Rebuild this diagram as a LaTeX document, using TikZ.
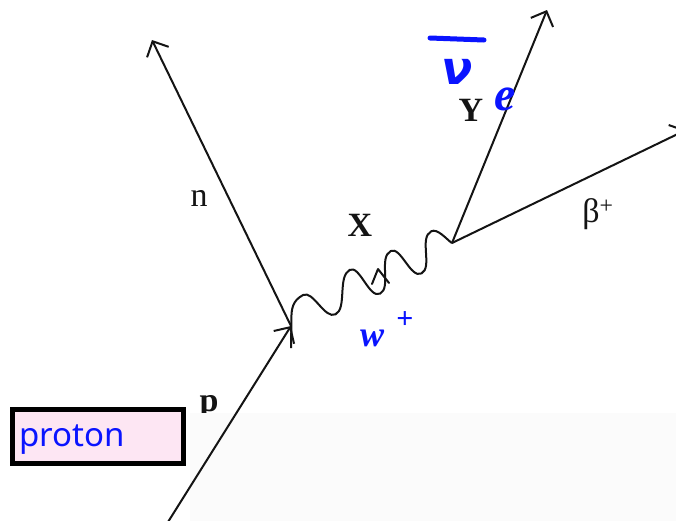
\documentclass[tikz,border=0pt]{standalone}
\usepackage{fontspec}
\setmainfont{Liberation Serif}
\newfontfamily\notosans{Noto Sans}
\newfontfamily\handfont{DejaVu Sans}
\usetikzlibrary{arrows.meta}
\definecolor{ink}{RGB}{20,20,20}
\definecolor{hand}{RGB}{10,20,255}
\definecolor{boxpink}{RGB}{253,230,243}
\definecolor{veil}{RGB}{251,251,251}
\tikzset{
  particle/.style={draw=ink, line width=2pt, -{Straight Barb[length=12pt,width=24pt,line width=2pt]}},
  wave/.style={draw=ink, line width=2pt},
  lbl/.style={text=ink, inner sep=0pt, font=\fontsize{34}{36}\selectfont},
  blbl/.style={lbl, font=\fontsize{34}{36}\selectfont\bfseries},
  handtxt/.style={text=hand, inner sep=0pt},
}
\begin{document}
\begin{tikzpicture}[x=1pt,y=-1pt]
\useasboundingbox (0,0) rectangle (676,520);
\clip (0,0) rectangle (676,520);
\fill[white] (0,0) rectangle (676,520);
% vertices and free ends
\coordinate (A) at (291,326);
\coordinate (B) at (452,243);
\coordinate (nEnd) at (152,40);
\coordinate (yEnd) at (547,10);
\coordinate (bEnd) at (686,130);
\coordinate (pStart) at (168,522);
% labels
\node[lbl] (labn) at (199,198) {n};
\node[blbl] (labX) at (360,225) {X};
\node[blbl] (labY) at (471,110) {Y};
\node[lbl] (labb) at (598,214) {β\textsuperscript{+}};
\node[blbl, anchor=base] (labp) at (209,411) {p};
% veil over the lower part
\fill[veil] (190,413) rectangle (676,522);
% fermion lines
\draw[particle] (pStart) -- (A);
\draw[particle] (A) -- (nEnd);
\draw[particle] (B) -- (yEnd);
\draw[particle] (B) -- (bEnd);
% wavy boson line, drawn in a frame along A -> B
\begin{scope}[shift={(A)}, x={(0.889pt,0.458pt)}, y={(-0.458pt,0.889pt)}]
\draw[wave] (-10,-19.6) -- (3,5)
  .. controls (8,15) and (13,22) .. (25,22)
  .. controls (36,22) and (33,-10) .. (45,-10)
  .. controls (58,-10) and (64,23) .. (78,23)
  .. controls (89,23) and (82,-12) .. (94,-12)
  .. controls (107,-12) and (109,21) .. (123,21)
  .. controls (134,21) and (128,-13) .. (140,-13)
  .. controls (153,-13) and (154,20) .. (168,20)
  .. controls (175,20) and (178,6) .. (181,0);
\end{scope}
\draw[wave, line cap=round, line join=round] (372,284) -- (378,269) -- (389,283);
% proton box
\node[draw=black, line width=5pt, fill=boxpink, minimum width=171pt, minimum height=54pt, inner sep=0pt] (pbox) at (98,436.5) {};
\node[anchor=base west, text=hand, inner sep=0pt, font=\notosans\fontsize{33}{36}\selectfont] (ptxt) at (19,446) {proton};
% handwritten annotations
\draw[hand, line width=5pt, line cap=round] (430,38) -- (484,40);
\node[handtxt, font=\handfont\fontsize{46}{46}\selectfont\bfseries\itshape] (hv) at (457,72) {ν};
\node[handtxt, font=\fontsize{48}{48}\selectfont\itshape\bfseries] (he) at (505,99) {e};
\node[handtxt, font=\fontsize{36}{36}\selectfont\itshape\bfseries] (hw) at (372,338) {w};
\node[handtxt, font=\fontsize{30}{30}\selectfont\bfseries] (hp) at (405,320) {+};
\end{tikzpicture}
\end{document}
